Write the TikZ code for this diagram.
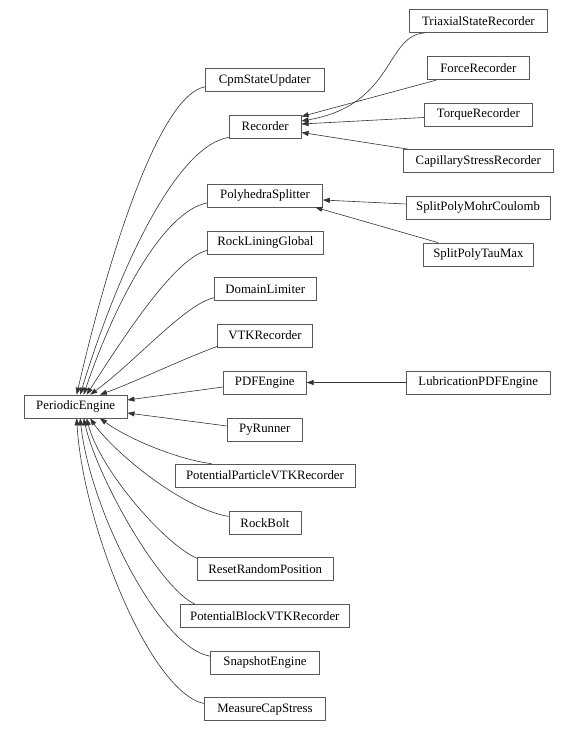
\documentclass[tikz,border=0pt]{standalone}
\usepackage{fontspec}
\setmainfont{Liberation Serif}
\usetikzlibrary{arrows.meta}
\begin{document}
\begin{tikzpicture}[x=1pt,y=-1pt,
  box/.style={draw=black!65,line width=0.7pt,fill=white,minimum height=23pt,inner sep=0pt,
    font=\fontsize{12.8}{14}\selectfont,text=black},
  edge/.style={draw=black!80,line width=0.6pt,-{Triangle[length=7pt,width=5pt]}}]
\useasboundingbox (0,0) rectangle (578,731);
% right column
\node[box,minimum width=138pt] (tsr) at (478.4,21) {TriaxialStateRecorder};
\node[box,minimum width=101.7pt] (force) at (478.4,68.3) {ForceRecorder};
\node[box,minimum width=108pt] (torque) at (478.3,114.5) {TorqueRecorder};
\node[box,minimum width=150.7pt] (cap) at (478.3,161) {CapillaryStressRecorder};
\node[box,minimum width=144.5pt] (smc) at (478.1,207.7) {SplitPolyMohrCoulomb};
\node[box,minimum width=110.6pt] (stm) at (478.4,254.5) {SplitPolyTauMax};
\node[box,minimum width=144pt] (lub) at (478.2,382.5) {LubricationPDFEngine};
% middle column
\node[box,minimum width=119pt] (cpm) at (264.8,80) {CpmStateUpdater};
\node[box,minimum width=72pt] (rec) at (265.2,126.5) {Recorder};
\node[box,minimum width=115pt] (poly) at (265,195.5) {PolyhedraSplitter};
\node[box,minimum width=115.7pt] (rlg) at (265.4,242.5) {RockLiningGlobal};
\node[box,minimum width=101.4pt] (dom) at (265.2,289.3) {DomainLimiter};
\node[box,minimum width=94.4pt] (vtk) at (265,335.5) {VTKRecorder};
\node[box,minimum width=83pt] (pdf) at (264.8,382.5) {PDFEngine};
\node[box,minimum width=74.8pt] (py) at (264.8,429.5) {PyRunner};
\node[box,minimum width=180pt] (ppv) at (265,475.5) {PotentialParticleVTKRecorder};
\node[box,minimum width=72.2pt] (bolt) at (265,522.8) {RockBolt};
\node[box,minimum width=136pt] (reset) at (265.2,569.3) {ResetRandomPosition};
\node[box,minimum width=169.2pt] (pbv) at (264.8,616) {PotentialBlockVTKRecorder};
\node[box,minimum width=109pt] (snap) at (265,662.5) {SnapshotEngine};
\node[box,minimum width=121.6pt] (meas) at (265,709.3) {MeasureCapStress};
% left
\node[box,minimum width=102.8pt] (pe) at (75.7,406.5) {PeriodicEngine};
% right-side edges
\draw[edge] ([xshift=16pt]tsr.south west) .. controls (385,35) and (395,105) .. ([yshift=5.5pt]rec.east);
\draw[edge] ([xshift=9pt]force.south west) -- ([yshift=10pt]rec.east);
\draw[edge] ([yshift=-3pt]torque.west) -- ([yshift=2.5pt]rec.east);
\draw[edge] ([xshift=5.5pt]cap.north west) -- ([yshift=-6pt]rec.east);
\draw[edge] ([yshift=3.7pt]smc.west) -- ([yshift=-4.5pt]poly.east);
\draw[edge] ([xshift=15.4pt]stm.north west) -- ([xshift=-7.5pt]poly.south east);
\draw[edge] (lub.west) -- (pdf.east);
% edges to PeriodicEngine, upper
\draw[edge] ([yshift=5pt]cpm.south west) .. controls (160,95) and (110,250) .. ([xshift=52.7pt]pe.north west);
\draw[edge] ([yshift=1pt]rec.south west) .. controls (175,146) and (117,274) .. ([xshift=56.2pt]pe.north west);
\draw[edge] ([yshift=4.5pt]poly.south west) .. controls (162,212) and (114,305) .. ([xshift=59.7pt]pe.north west);
\draw[edge] ([yshift=4pt]rlg.south west) .. controls (175,258) and (125,335) .. ([xshift=62.7pt]pe.north west);
\draw[edge] ([yshift=3.5pt]dom.south west) .. controls (185,304) and (135,362) .. ([xshift=66.2pt]pe.north west);
\draw[edge] ([yshift=1pt]vtk.south west) .. controls (185,358) and (135,382) .. ([xshift=76pt]pe.north west);
% straight ones
\draw[edge] ([yshift=-4.5pt]pdf.west) -- ([yshift=6.5pt]pe.east);
\draw[edge] ([yshift=3.5pt]py.west) -- ([yshift=-6.5pt]pe.east);
% lower
\draw[edge] ([xshift=37pt]ppv.north west) .. controls (180,460) and (130,440) .. ([xshift=76pt]pe.south west);
\draw[edge] ([yshift=-5.5pt]bolt.north west) .. controls (180,508) and (112,450) .. ([xshift=66.2pt]pe.south west);
\draw[edge] ([xshift=0.5pt,yshift=-1pt]reset.north west) .. controls (165,545) and (100,470) .. ([xshift=62.7pt]pe.south west);
\draw[edge] ([xshift=15pt]pbv.north west) .. controls (160,588) and (98,480) .. ([xshift=59.7pt]pe.south west);
\draw[edge] ([yshift=-5.5pt]snap.north west) .. controls (160,648) and (90,510) .. ([xshift=56.2pt]pe.south west);
\draw[edge] ([yshift=-6pt]meas.north west) .. controls (150,692) and (83,525) .. ([xshift=52.7pt]pe.south west);
\end{tikzpicture}
\end{document}
